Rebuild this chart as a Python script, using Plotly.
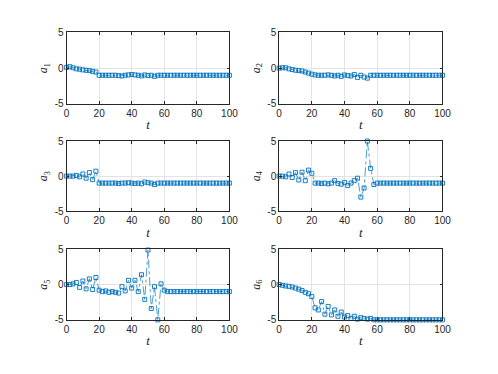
import plotly.graph_objects as go

# sample times
t = [0, 2, 4, 6, 8, 10, 12, 14, 16, 18, 20, 22, 24, 26, 28, 30, 32, 34, 36, 38,
     40, 42, 44, 46, 48, 50, 52, 54, 56, 58, 60, 62, 64, 66, 68, 70, 72, 74, 76, 78,
     80, 82, 84, 86, 88, 90, 92, 94, 96, 98, 100]

a1 = [0.1, 0.2, 0.05, -0.1, -0.15, -0.25, -0.3, -0.35, -0.45, -0.55,
      -1.0, -1.0, -1.0, -1.0, -1.0, -1.0, -1.05, -1.1, -1.0, -0.95,
      -0.9, -0.95, -1.0, -1.1, -0.95, -1.05, -1.0, -1.15, -1.0,
      -1.0, -1.0, -1.0, -1.0, -1.0, -1.0, -1.0, -1.0, -1.0, -1.0, -1.0,
      -1.0, -1.0, -1.0, -1.0, -1.0, -1.0, -1.0, -1.0, -1.0, -1.0, -1.0]

a2 = [0.0, 0.05, 0.05, -0.1, -0.2, -0.3, -0.35, -0.4, -0.55, -0.7,
      -0.85, -0.95, -1.0, -1.0, -1.0, -0.95, -1.0, -1.1, -1.0, -1.15,
      -0.95, -1.05, -1.1, -0.9, -1.3, -1.0, -1.25, -1.4, -1.0,
      -1.0, -1.0, -1.0, -1.0, -1.0, -1.0, -1.0, -1.0, -1.0, -1.0, -1.0,
      -1.0, -1.0, -1.0, -1.0, -1.0, -1.0, -1.0, -1.0, -1.0, -1.0, -1.0]

a3 = [0.0, 0.0, 0.0, 0.1, -0.1, 0.3, -0.3, 0.5, -0.5, 0.7,
      -1.0, -1.0, -1.0, -1.0, -1.0, -1.0, -1.05, -1.0, -1.0, -0.95,
      -1.0, -1.05, -1.0, -1.1, -0.85, -0.95, -1.0, -1.2, -1.0,
      -1.0, -1.0, -1.0, -1.0, -1.0, -1.0, -1.0, -1.0, -1.0, -1.0, -1.0,
      -1.0, -1.0, -1.0, -1.0, -1.0, -1.0, -1.0, -1.0, -1.0, -1.0, -1.0]

a4 = [0.0, 0.0, -0.1, 0.3, -0.2, 0.5, -0.55, 0.55, -0.65, 0.85,
      0.4, -1.0, -1.0, -1.05, -1.0, -1.1, -1.0, -0.65, -1.05, -1.15,
      -0.9, -1.35, -1.0, -0.65, -0.3, -3.0, -1.7, 5.0, 1.1, -1.2,
      -1.0, -1.0, -1.0, -1.0, -1.0, -1.0, -1.0, -1.0, -1.0, -1.0,
      -1.0, -1.0, -1.0, -1.0, -1.0, -1.0, -1.0, -1.0, -1.0, -1.0, -1.0]

a5 = [0.0, 0.0, 0.1, 0.3, -0.4, 0.5, -0.6, 0.8, -0.7, 1.0,
      -0.8, -1.0, -0.9, -1.1, -1.0, -1.1, -1.2, -0.3, -0.9, 0.6,
      -0.5, 0.6, -1.0, 1.4, -2.1, 4.9, -3.4, -0.3, -5.0, 0.1,
      -0.8, -1.0, -1.0, -1.0, -1.0, -1.0, -1.0, -1.0, -1.0, -1.0,
      -1.0, -1.0, -1.0, -1.0, -1.0, -1.0, -1.0, -1.0, -1.0, -1.0, -1.0]

a6 = [0.0, -0.1, -0.2, -0.25, -0.35, -0.5, -0.65, -0.85, -1.1, -1.3,
      -1.7, -3.3, -3.6, -2.4, -4.2, -3.1, -4.3, -3.6, -4.5, -3.9,
      -4.6, -4.4, -4.8, -4.5, -4.9, -4.7, -4.8, -4.9, -4.8, -5.0,
      -5.0, -5.0, -5.0, -5.0, -5.0, -5.0, -5.0, -5.0, -5.0, -5.0,
      -5.0, -5.0, -5.0, -5.0, -5.0, -5.0, -5.0, -5.0, -5.0, -5.0, -5.0]

series = [a1, a2, a3, a4, a5, a6]
x_ticks = [0, 20, 40, 60, 80, 100]
y_ticks = [-5, 0, 5]
y_tick_text = ['-5', '0', '5']

BLUE = '#0072BD'
AXIS = '#262626'
GRID = '#e3e3e3'

# the page body keeps its default 8px margin, so the figure is a bit
# smaller than the window and everything is placed in window pixels
PAD = 8
W, H = 482, 356

# panel positions in window pixels (left, right) and (top, bottom)
cols = [(65, 232), (283, 450.5)]
rows = [(27, 101), (139.5, 212), (251.5, 324.5)]

fig = go.Figure()
layout = {}
for i, a in enumerate(series):
    r, c = divmod(i, 2)
    n = '' if i == 0 else str(i + 1)
    fig.add_trace(go.Scatter(
        x=t, y=a,
        mode='lines+markers',
        line=dict(color=BLUE, width=0.7, dash='dashdot'),
        marker=dict(symbol='square-open', size=4, color=BLUE,
                    line=dict(color=BLUE, width=0.9)),
        cliponaxis=False,
        xaxis='x' + n, yaxis='y' + n,
        showlegend=False
    ))
    x0, x1 = cols[c]
    y0, y1 = rows[r]
    common = dict(
        showline=True, mirror='ticks', linecolor=AXIS, linewidth=0.8,
        ticks='inside', ticklen=3, tickcolor=AXIS, tickwidth=0.8,
        showgrid=True, gridcolor=GRID, gridwidth=0.8,
        zeroline=False,
        tickfont=dict(family='Liberation Sans, Arial', size=10, color=AXIS),
    )
    layout['xaxis' + n] = dict(
        common,
        domain=[(x0 - PAD) / W, (x1 - PAD) / W],
        range=[0, 100], tickvals=x_ticks,
        anchor='y' + n,
        title=dict(text='<i>t</i>', standoff=2,
                   font=dict(family='Liberation Serif, Times New Roman', size=13, color=AXIS)),
    )
    layout['yaxis' + n] = dict(
        common,
        domain=[1 - (y1 - PAD) / H, 1 - (y0 - PAD) / H],
        range=[-5, 5], tickvals=y_ticks, ticktext=y_tick_text,
        anchor='x' + n,
        title=dict(text='<i>a</i><sub>%d</sub>' % (i + 1), standoff=4,
                   font=dict(family='Liberation Serif, Times New Roman', size=12, color=AXIS)),
    )

fig.update_layout(
    width=W, height=H,
    margin=dict(l=0, r=0, t=0, b=0),
    paper_bgcolor='white',
    plot_bgcolor='white',
    **layout
)

fig.write_html("out.html")
